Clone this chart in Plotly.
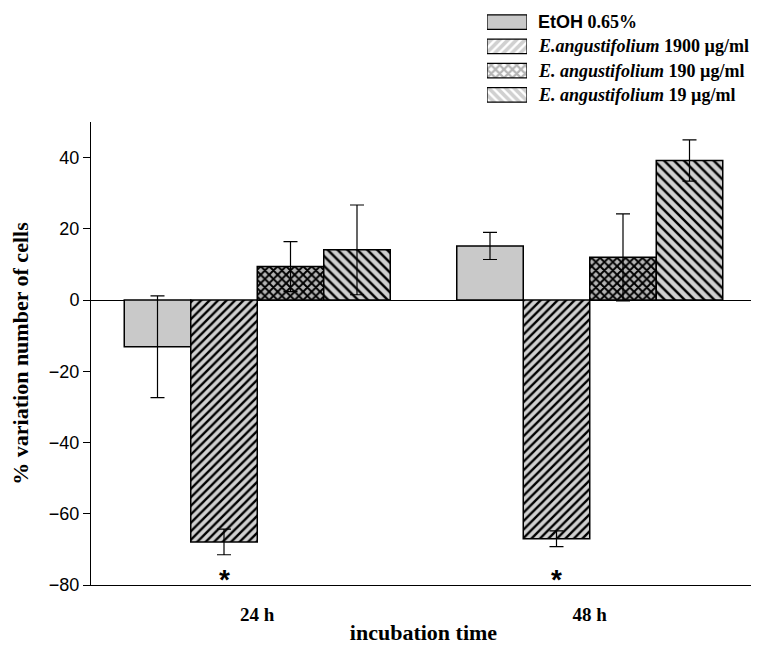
import plotly.graph_objects as go

categories = ["24 h", "48 h"]
cat_pos = [0, 1]

series_names = [
    '<span style="font-family:Liberation Sans">EtOH</span> 0.65%',
    '<i>E.angustifolium</i> 1900 µg/ml',
    '<i>E. angustifolium</i> 190 µg/ml',
    '<i>E. angustifolium</i> 19 µg/ml',
]
etoh_vals = [-13.1, 15.2]
etoh_err = [14.3, 3.8]
e1900_vals = [-67.9, -67.0]
e1900_err = [3.6, 2.2]
e190_vals = [9.4, 12.0]
e190_err = [7.0, 12.2]
e19_vals = [14.1, 39.2]
e19_err = [12.6, 5.8]

values = [etoh_vals, e1900_vals, e190_vals, e19_vals]
errors = [etoh_err, e1900_err, e190_err, e19_err]

# significance markers (on 1900 µg/ml bars)
sig_x = [-0.1, 0.9]
sig_y = -78.5

styles = [
    dict(color="#c9c9c9", shape="", fg="#000000", bg="#c9c9c9", size=6, sol=0.3),
    dict(color="#d0d0d0", shape="/", fg="#000000", bg="#d0d0d0", size=6, sol=0.4),
    dict(color="#b5b5b5", shape="x", fg="#000000", bg="#b5b5b5", size=6, sol=0.55),
    dict(color="#d0d0d0", shape="\\", fg="#000000", bg="#d0d0d0", size=7, sol=0.35),
]

SERIF = "Liberation Serif"
SANS = "Liberation Sans"

# page body has an 8px margin: figure is sized so it ends at the window edge
W, H = 751, 637
L, R, T, B = 83, 3, 0, 60
PH = H - T - B  # paper height


def py(ref_y):
    """reference screen y -> paper fraction"""
    return (H - B - (ref_y - 8)) / PH


def px(ref_x):
    return (ref_x - 91) / 665


fig = go.Figure()
for name, vals, errs, st in zip(series_names, values, errors, styles):
    fig.add_trace(go.Bar(
        x=cat_pos, y=vals, name=name,
        marker=dict(color=st["color"],
                    line=dict(color="black", width=1.5),
                    pattern=dict(shape=st["shape"], fgcolor=st["fg"], bgcolor=st["bg"],
                                 size=st["size"], solidity=st["sol"], fillmode="replace")),
        error_y=dict(type="data", array=errs, visible=True, color="black",
                     thickness=1.2, width=7),
        showlegend=False,
        xaxis="x", yaxis="y",
    ))

# legend swatches drawn as a mini bar chart
leg_rows = [0, 1, 2, 3]
fig.add_trace(go.Bar(
    x=[1, 1, 1, 1], y=leg_rows, orientation="h", width=0.6,
    marker=dict(color=[s["color"] for s in styles],
                line=dict(color="black", width=1.2),
                pattern=dict(shape=[s["shape"] for s in styles],
                             fgcolor=[s["fg"] for s in styles],
                             bgcolor=[s["bg"] for s in styles],
                             size=[6, 6, 6, 6],
                             solidity=[0.3, 0.6, 0.6, 0.6],
                             fillmode="replace")),
    showlegend=False, hoverinfo="skip",
    xaxis="x2", yaxis="y2",
))

annotations = []
for i, nm in enumerate(series_names):
    annotations.append(dict(
        xref="paper", yref="y2", x=px(536), y=leg_rows[i],
        xanchor="left", yanchor="middle", showarrow=False,
        text="<b>" + nm + "</b>", font=dict(family=SERIF, size=18, color="black"),
    ))
for xp in sig_x:
    annotations.append(dict(
        xref="x", yref="y", x=xp, y=sig_y, text="<b>*</b>", showarrow=False,
        font=dict(family=SANS, size=28, color="black"), yanchor="middle",
    ))

fig.update_layout(
    width=W, height=H,
    margin=dict(l=L, r=R, t=T, b=B, autoexpand=False),
    paper_bgcolor="white", plot_bgcolor="white",
    barmode="group", bargap=0.2, bargroupgap=0,
    annotations=annotations,
    xaxis=dict(
        domain=[0, 1], range=[-0.5, 1.5], tickvals=cat_pos,
        ticktext=["<b>%s</b>" % c for c in categories],
        tickfont=dict(family=SERIF, size=19, color="black"), ticklabelstandoff=12,
        showline=True, linecolor="black", linewidth=1, ticks="", showgrid=False,
        zeroline=False, anchor="y", automargin=False,
        title=dict(text="<b>incubation time</b>", font=dict(family=SERIF, size=22, color="black"), standoff=2),
    ),
    yaxis=dict(
        domain=[0, py(122)], range=[-80, 50], tickvals=[-80, -60, -40, -20, 0, 20, 40],
        tickfont=dict(family=SANS, size=18, color="black"),
        showline=True, linecolor="black", linewidth=1, ticks="outside", ticklen=7,
        tickcolor="black", showgrid=False, automargin=False,
        zeroline=True, zerolinecolor="black", zerolinewidth=1,
        title=dict(text="<b>% variation number of cells</b>", font=dict(family=SERIF, size=22, color="black"), standoff=15),
        anchor="x",
    ),
    xaxis2=dict(domain=[px(487), px(527)], range=[0, 1], visible=False,
                anchor="y2", fixedrange=True),
    yaxis2=dict(domain=[py(107), py(10)], range=[3.5, -0.5], visible=False,
                anchor="x2", fixedrange=True),
)

fig.write_html("out.html")
